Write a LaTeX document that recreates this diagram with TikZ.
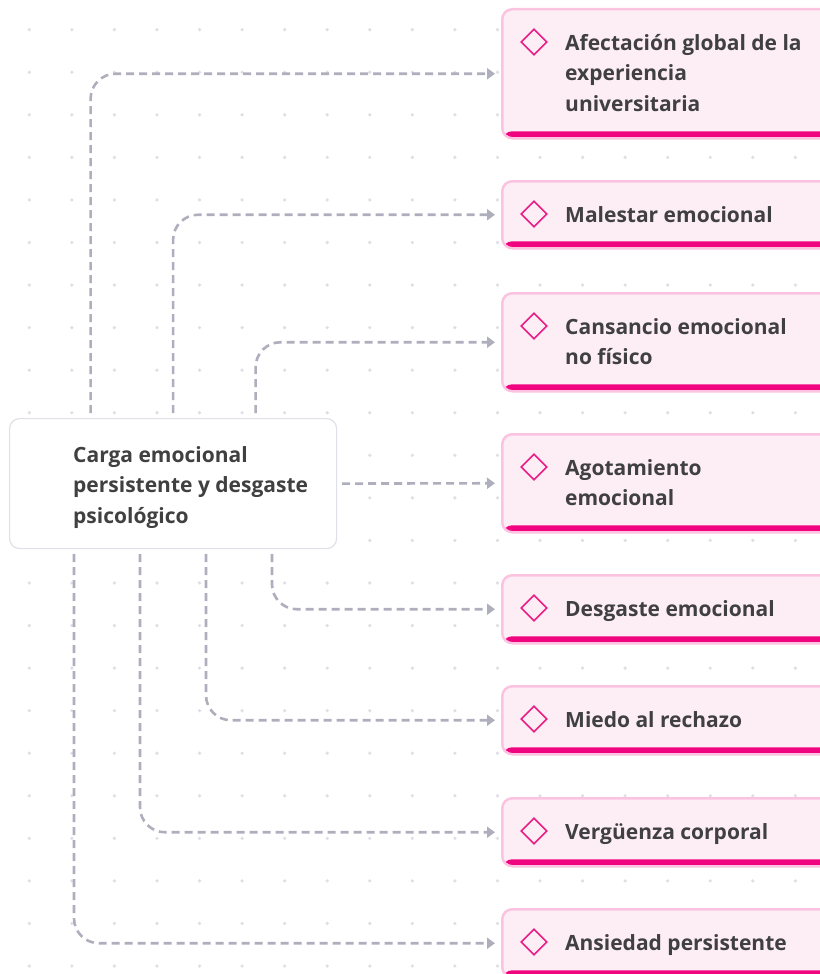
\documentclass[tikz,border=0pt]{standalone}
\usepackage{fontspec}
\setmainfont{Open Sans}
\usetikzlibrary{arrows.meta,shapes.geometric}
\definecolor{dotc}{HTML}{DEDEE6}
\definecolor{connc}{HTML}{AEAEBD}
\definecolor{cborder}{HTML}{E0E0E8}
\definecolor{pfill}{HTML}{FDEEF6}
\definecolor{pborder}{HTML}{FBC3DF}
\definecolor{pbar}{HTML}{F0047F}
\definecolor{pdiam}{HTML}{EA1D84}
\definecolor{txt}{HTML}{404040}
\newcommand{\lstrut}{\rule{0pt}{20pt}}
\begin{document}
\begin{tikzpicture}[x=1pt,y=-1pt,
  cbox/.style={draw=cborder, line width=1.2pt, fill=white, rounded corners=10pt, inner sep=0pt},
  ctext/.style={text=txt, font=\fontsize{21}{30.5}\selectfont\bfseries, align=left, inner sep=0pt},
  rbox/.style={draw=pborder, line width=2.5pt, fill=pfill, rounded corners=10pt, inner sep=0pt, minimum width=340pt,
    path picture={\fill[pbar] (path picture bounding box.south west) rectangle ([yshift=7pt]path picture bounding box.south east);}},
  rtext/.style={text=txt, font=\fontsize{21}{30.5}\selectfont\bfseries, align=left, inner sep=0pt},
  diam/.style={diamond, draw=pdiam, line width=1.6pt, minimum width=26pt, minimum height=26pt, aspect=1, inner sep=0pt},
  conn/.style={draw=connc, line width=2.6pt, dash pattern=on 8pt off 5pt, rounded corners=25pt,
    -{Triangle[length=8pt,width=11pt]}}
]
\useasboundingbox (0,0) rectangle (819,974);
\foreach \i in {0,...,19}{\foreach \j in {0,...,22}{\fill[dotc] (29.3+42.56*\i,29.7+42.56*\j) circle[radius=1.8pt];}}

\node[cbox, anchor=north west, minimum width=327pt, minimum height=130pt] (c) at (9,418) {};
\node[ctext, anchor=north west] (ct) at (73,442) {\lstrut Carga emocional\\persistente y desgaste\\psicológico};

\foreach \t/\h/\n/\txt in {8/129/b1/{Afectación global de la\\experiencia\\universitaria},
  180/67/b2/{Malestar emocional},
  292/98/b3/{Cansancio emocional\\no físico},
  433/98/b4/{Agotamiento\\emocional},
  574/68/b5/{Desgaste emocional},
  685/68/b6/{Miedo al rechazo},
  797/68/b7/{Vergüenza corporal},
  908/68/b8/{Ansiedad persistente}}{
  \node[rbox, minimum height=\h pt, anchor=north west] (\n) at (501,\t) {};
  \node[diam] (\n d) at (534,\t+34) {};
  \node[rtext, anchor=north west] (\n t) at (565,\t+22) {\lstrut\txt};
}

\draw[conn] ([xshift=-82.5pt,yshift=5pt]c.north) |- ([xshift=-6pt]b1.west);
\draw[conn] ([yshift=5pt]c.north) |- ([xshift=-6pt]b2.west);
\draw[conn] ([xshift=82.5pt,yshift=5pt]c.north) |- ([xshift=-6pt]b3.west);
\draw[conn] ([xshift=5pt]c.east) -- ([xshift=-6pt]b4.west);
\draw[conn] ([xshift=263pt,yshift=-5pt]c.south west) |- ([xshift=-6pt]b5.west);
\draw[conn] ([xshift=197pt,yshift=-5pt]c.south west) |- ([xshift=-6pt]b6.west);
\draw[conn] ([xshift=131pt,yshift=-5pt]c.south west) |- ([xshift=-6pt]b7.west);
\draw[conn] ([xshift=65pt,yshift=-5pt]c.south west) |- ([xshift=-6pt]b8.west);
\end{tikzpicture}
\end{document}
